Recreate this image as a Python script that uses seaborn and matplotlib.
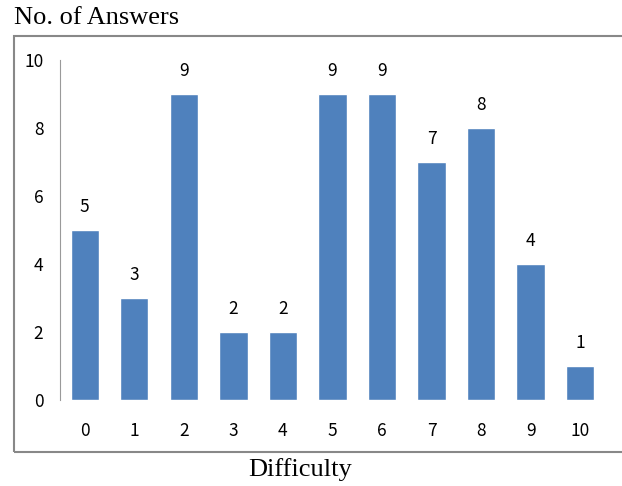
import matplotlib
matplotlib.use("Agg")
import matplotlib.pyplot as plt
import seaborn as sns
import pandas as pd
from matplotlib.patches import Rectangle

difficulty = [str(i) for i in range(11)]
answers = [5, 3, 9, 2, 2, 9, 9, 7, 8, 4, 1]
y_ticks = [0, 2, 4, 6, 8, 10]

sns.set_theme(style="white")
plt.rcParams["font.family"] = ["Noto Sans CJK KR", "DejaVu Sans"]

df = pd.DataFrame({"Difficulty": difficulty, "Answers": answers})

fig = plt.figure(figsize=(6.22, 4.86), dpi=100)
ax = fig.add_axes([0.0965, 0.177, 0.876, 0.6995])

sns.barplot(data=df, x="Difficulty", y="Answers", color="#4F81BD",
            width=0.57, saturation=1, ax=ax)

ax.set_ylim(0, 10)
ax.set_xlim(-0.5, 10.5)
ax.set_yticks(y_ticks)
ax.set_yticklabels([str(t) for t in y_ticks])
ax.tick_params(axis="both", length=0, labelsize=12.5, colors="black")
ax.tick_params(axis="y", pad=12)
ax.tick_params(axis="x", pad=16)
ax.set_xlabel("")
ax.set_ylabel("")

for side in ["top", "right", "bottom"]:
    ax.spines[side].set_visible(False)
ax.spines["left"].set_color("#9a9a9a")
ax.spines["left"].set_linewidth(0.8)

ax.bar_label(ax.containers[0], labels=[str(v) for v in answers],
             padding=10, fontsize=12.5, color="black")

# outer frame around the plot area
fig.patches.append(Rectangle((14 / 622, 1 - 452 / 486), 0.99, (452 - 36) / 486,
                             transform=fig.transFigure, fill=False,
                             edgecolor="#888888", linewidth=1.5))

serif = ["Liberation Serif", "DejaVu Serif"]
fig.text(14 / 622, 1 - 18 / 486, "No. of Answers", family=serif,
         fontsize=19, va="center", ha="left", color="black")
fig.text(300 / 622, 1 - 470 / 486, "Difficulty", family=serif,
         fontsize=19, va="center", ha="center", color="black")

fig.savefig("out.png", dpi=100)
